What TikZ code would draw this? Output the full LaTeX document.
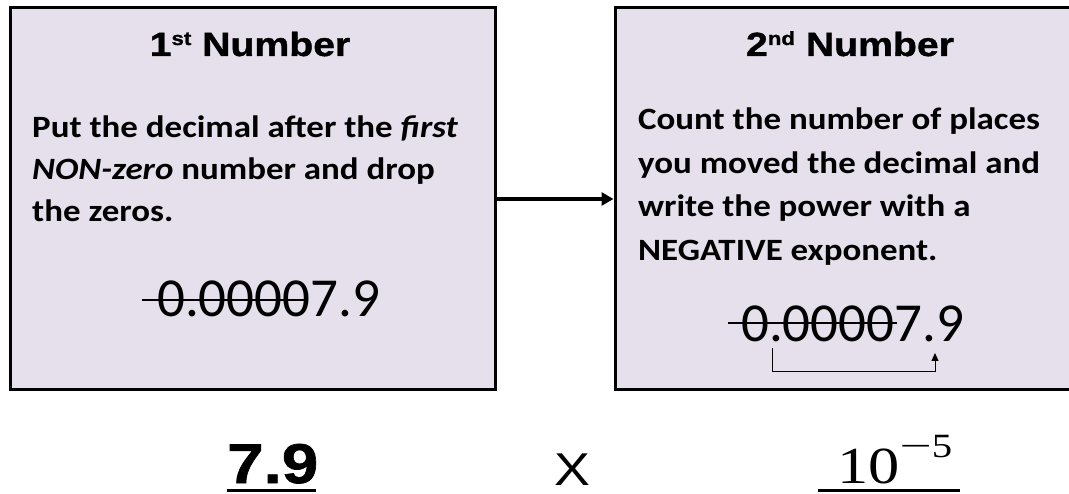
\documentclass[tikz,border=0pt]{standalone}
\usepackage{fontspec}
\setmainfont[FakeStretch=1.127]{Carlito}
\newfontfamily\numfont{Carlito}
\newfontfamily\arialfont[FakeStretch=1.17, BoldFeatures={FakeBold=1.2}]{Liberation Sans}
\newfontfamily\timesfont[FakeStretch=1.2]{Liberation Serif}
\usetikzlibrary{arrows.meta,positioning}
\definecolor{boxfill}{HTML}{E5E0EC}
\newcommand{\ordsup}[1]{\raisebox{11pt}{\fontsize{19}{19}\selectfont #1}}
\tikzset{
  numbox/.style={draw, line width=3pt, fill=boxfill, inner sep=0pt},
  titletext/.style={font=\arialfont\bfseries\fontsize{33.5}{40}\selectfont, inner sep=0pt, anchor=base},
  bodytext/.style={font=\bfseries\fontsize{31}{42}\selectfont, align=left, inner sep=0pt, anchor=north west},
  decimal/.style={font=\numfont\fontsize{55}{60}\selectfont, inner sep=0pt, anchor=base west},
  strike/.style={line width=2.5pt},
  result/.style={inner sep=0pt, anchor=base west},
  underbar/.style={line width=3pt}
}
\begin{document}
\begin{tikzpicture}[x=1pt, y=-1pt]
    \useasboundingbox (0,0) rectangle (1069,494);
    \clip (0,0) rectangle (1069,494);
    % ---------------------------------------------
    % the two boxes
    \node[numbox, minimum width=485pt, minimum height=382pt] (box1) at (252.5,199) {};
    \node[numbox, minimum width=473pt, minimum height=382pt] (box2) at (851.5,199) {};
    \draw[-{Triangle[length=12pt, width=13pt]}, line width=3.5pt] (box1.east) -- (box2.west);

    % ---------------------------------------------
    % first number
    \node[titletext] (title1) at (250,56) {1\ordsup{st} Number};
    \node[bodytext] (body1) at (32,116) {Put the decimal after the \textit{first}\\
      \textit{NON-zero} number and drop\\
      the zeros.};
    \node[decimal] (num1a) at (157,317) {0.0000};
    \node[decimal] (num1b) at (num1a.base east) {7.9};
    \coordinate (strike1a) at (142,300);
    \coordinate (strike1b) at (307,300);
    \draw[strike] (strike1a) -- (strike1b);

    % ---------------------------------------------
    % second number
    \node[titletext] (title2) at (850,56) {2\ordsup{nd} Number};
    \node[bodytext, font=\bfseries\fontsize{31}{43.5}\selectfont] (body2) at (638,108) {Count the number of places\\
      you moved the decimal and\\
      write the power with a\\
      NEGATIVE exponent.};
    \node[decimal] (num2a) at (741,342) {0.0000};
    \node[decimal] (num2b) at (num2a.base east) {7.9};
    \coordinate (strike2a) at (728,323);
    \coordinate (strike2b) at (897,323);
    \draw[strike] (strike2a) -- (strike2b);
    % count the places moved
    \coordinate (jumpfrom) at (772,348);
    \coordinate (jumpto) at (935,353);
    \draw[-{Triangle[length=8pt, width=7pt]}, line width=1pt] (jumpfrom) -- ++(0,24) -| (jumpto);

    % ---------------------------------------------
    % scientific notation
    \node[result, font=\arialfont\bfseries\fontsize{56}{60}\selectfont] (coef) at (227,483) {7.9};
    \draw[underbar] (227,490) -- (316,490);
    \node[result, anchor=base, font=\arialfont\fontsize{46}{50}\selectfont] (times) at (572,485) {X};
    \node[result, font=\timesfont\fontsize{52}{60}\selectfont] (power) at (837,483) {10\raisebox{26pt}{\fontsize{34}{34}\selectfont\scalebox{1.4}[1]{−}5}};
    \draw[underbar] (818,490) -- (960,490);
  \end{tikzpicture}
\end{document}
